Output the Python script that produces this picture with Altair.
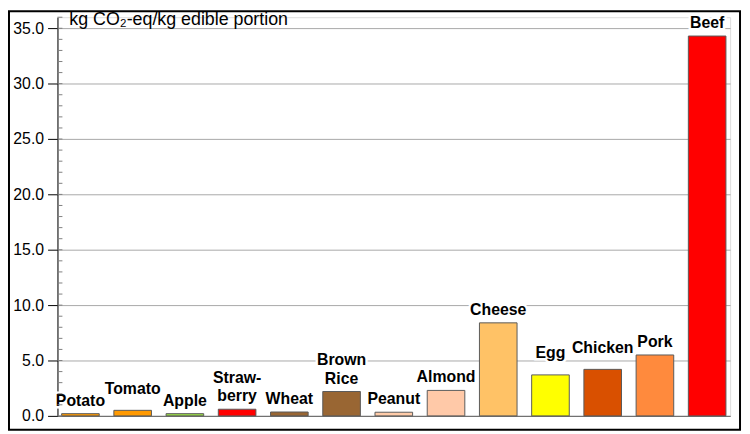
import altair as alt
import pandas as pd

foods = ["Potato", "Tomato", "Apple", "Straw-\nberry", "Wheat", "Brown\nRice", "Peanut",
         "Almond", "Cheese", "Egg", "Chicken", "Pork", "Beef"]
values = [0.2, 0.5, 0.2, 0.6, 0.35, 2.2, 0.33, 2.3, 8.4, 3.7, 4.2, 5.5, 34.3]
colors = ["#FF9900", "#FF9900", "#99DD44", "#FF0000", "#996633", "#996633", "#FFCBA8",
          "#FFC9A8", "#FFC266", "#FFFF00", "#D95000", "#FF8A3D", "#FF0000"]
y_ticks = [0, 5, 10, 15, 20, 25, 30, 35]
minor_ticks = list(range(0, 37))
raised = ["Tomato", "Egg", "Chicken"]

df = pd.DataFrame({"food": foods, "value": values, "color": colors,
                   "label": [f.split("\n") for f in foods]})
df["raised"] = df["food"].isin(raised)
df["multi"] = df["food"].str.contains("\n")

W, H = 680, 403
FONT = "Liberation Sans"

xs = alt.X("food:N", sort=foods, scale=alt.Scale(paddingInner=0.28, paddingOuter=0.08),
           axis=alt.Axis(labels=False, ticks=False, title=None, domainColor="#666666",
                         domainWidth=1))
ys = alt.Y("value:Q", scale=alt.Scale(domain=[0, 36], nice=False, zero=True),
           axis=alt.Axis(values=y_ticks, format=".1f", title=None, labelFontSize=16,
                         labelFont=FONT, labelColor="#000000", labelPadding=4,
                         tickSize=10, tickColor="#000000", domainColor="#000000",
                         grid=True, gridColor="#A8A8A8", gridWidth=1))

base = alt.Chart(df)

bars = base.mark_bar(stroke="#5a5a5a", strokeWidth=1).encode(
    x=xs, y=ys, color=alt.Color("color:N", scale=None)
)


def label_layer(cond, dy, halo=False):
    style = dict(fontSize=16, fontWeight="bold", font=FONT, baseline="bottom", dy=dy,
                 lineHeight=19)
    if halo:
        style.update(color="#FFFFFF", stroke="#FFFFFF", strokeWidth=5)
    else:
        style.update(color="#000000")
    return base.transform_filter(cond).mark_text(**style).encode(
        x=alt.X("food:N", sort=foods), y="value:Q", text="label")


groups = [("!datum.raised && !datum.multi", -5), ("datum.multi", -24), ("datum.raised", -14)]
halos = [label_layer(c, d, halo=True) for c, d in groups]
labels = [label_layer(c, d) for c, d in groups]

minor = alt.Chart(pd.DataFrame({"t": minor_ticks})).mark_rule(
    color="#808080", strokeWidth=1
).encode(x=alt.value(0), x2=alt.value(5), y="t:Q")

title = alt.Chart(pd.DataFrame({"t": ["kg CO₂-eq/kg edible portion"]})).mark_text(
    align="left", baseline="alphabetic", fontSize=18, font=FONT, color="#000000"
).encode(x=alt.value(12), y=alt.value(8), text="t:N")

border = alt.Chart(pd.DataFrame({"a": [0]})).mark_rect(
    fill=None, stroke="#000000", strokeWidth=2
).encode(x=alt.value(-49), x2=alt.value(690), y=alt.value(-6), y2=alt.value(417))

chart = alt.layer(bars, *halos, *labels, minor, title, border).properties(
    width=W, height=H,
    autosize=alt.AutoSizeParams(type="none"),
    padding={"left": 50, "top": 7, "right": 12, "bottom": 16},
).configure_view(stroke=None).configure(background="#FFFFFF")

chart.save("out.html", embed_options={"renderer": "svg", "actions": False})
